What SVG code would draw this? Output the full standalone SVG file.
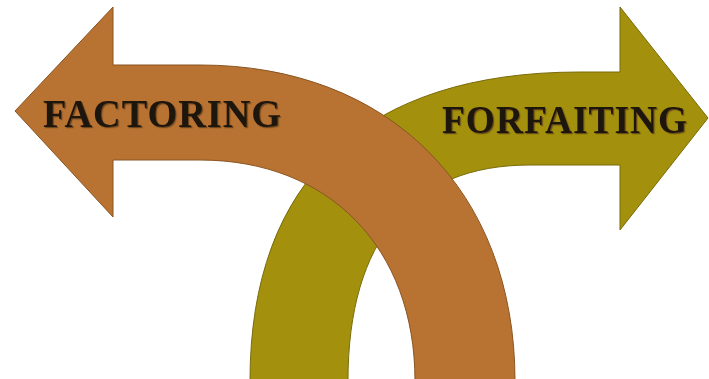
<svg xmlns="http://www.w3.org/2000/svg" width="709" height="379" viewBox="0 0 709 379">
  <defs>
    <filter id="shadow" x="-5%" y="-20%" width="110%" height="140%">
      <feDropShadow dx="1.2" dy="1.2" stdDeviation="0.6" flood-color="#5a3a1a" flood-opacity="0.8"/>
    </filter>
  </defs>
  <style>
    .olive { fill: #A3900C; stroke: #7a6b0a; stroke-width: 1; }
    .brown { fill: #B87333; stroke: #8a5522; stroke-width: 1; }
    .label { font-family: "Liberation Serif", "DejaVu Serif", serif; font-weight: bold; fill: #1e120a; letter-spacing: 1px; filter: url(#shadow); }
  </style>
  <rect x="0" y="0" width="709" height="379" fill="#ffffff"/>
  <g id="forfaiting">
    <path class="olive" d="M 708,118 L 620,230 L 620,165 L 530,165 C 412,165 348,240 348,381 L 250,381 C 250,179.5 365.5,72 580,72 L 620,72 L 620,7 Z"/>
    <text class="label" x="442" y="133" font-size="40" textLength="246" lengthAdjust="spacingAndGlyphs">FORFAITING</text>
  </g>
  <g id="factoring">
    <path class="brown" d="M 15,111 L 113,7 L 113,65 L 200,65 C 389,65 515,190.6 515,381 L 415,381 C 415,248 329,160 200,160 L 113,160 L 113,217 Z"/>
    <text class="label" x="43" y="127" font-size="41" textLength="239" lengthAdjust="spacingAndGlyphs">FACTORING</text>
  </g>
  <g id="connectors"/>
</svg>
